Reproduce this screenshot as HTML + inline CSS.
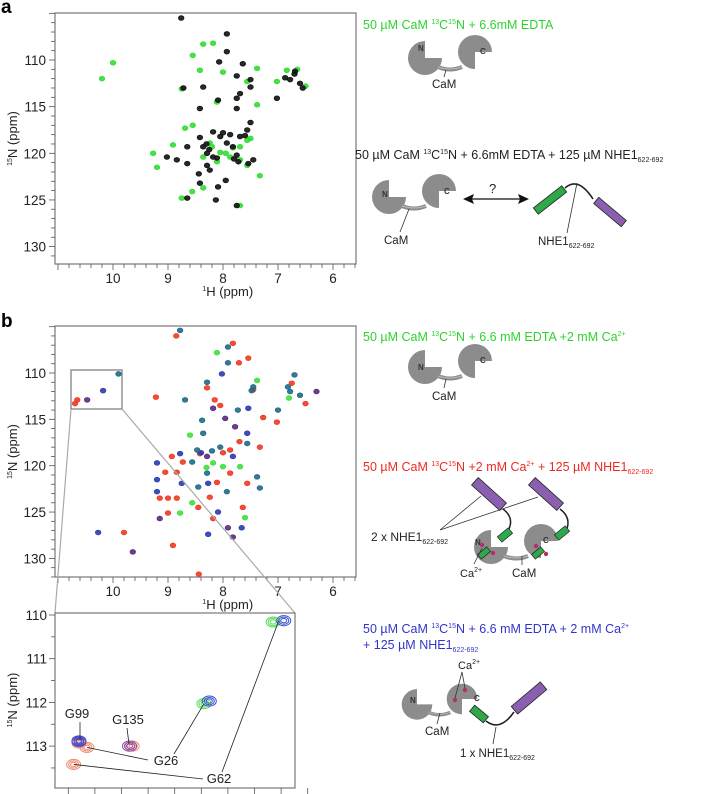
<!DOCTYPE html>
<html><head><meta charset="utf-8"><style>
html,body{margin:0;padding:0;background:#fff;}
svg{display:block;font-family:"Liberation Sans",Arial,sans-serif;}
</style></head><body>
<svg id="fig" width="701" height="794" viewBox="0 0 701 794" xmlns="http://www.w3.org/2000/svg">
<defs>
<symbol id="cam-shape" overflow="visible">
 <path d="M0,6 L0,-11 A17,17 0 1 0 17,6 Z" fill="#8c8c8c"/>
 <path d="M50,0 L67,0 A17,17 0 1 0 50,17 Z" fill="#8c8c8c"/>
 <path d="M13,15 Q25,20 37,15" stroke="#8c8c8c" stroke-width="4" fill="none"/>
 <path d="M13,15 Q25,19 37,15" stroke="#bbb" stroke-width="1" fill="none"/>
</symbol>
</defs>
<text x="1" y="13" font-size="19" font-weight="bold">a</text>
<text x="1" y="327" font-size="19" font-weight="bold">b</text>
<g id="plotA"></g>
<g id="plotB"></g>
<g id="plotC"></g>

<text x="363" y="29" font-size="12.5" fill="#2fd22f">50 µM CaM <tspan font-size="7" dy="-5">13</tspan><tspan dy="5">C</tspan><tspan font-size="7" dy="-5">15</tspan><tspan dy="5">N + 6.6mM EDTA</tspan></text>
<g>
 <use href="#cam-shape" x="425" y="52"/>
 <text x="418" y="51" font-size="8" font-weight="bold" fill="#333">N</text>
 <text x="480" y="54" font-size="8" font-weight="bold" fill="#333">C</text>
 <line x1="446" y1="70" x2="444" y2="77" stroke="#333" stroke-width="0.8"/>
 <text x="432" y="88" font-size="11.5" fill="#222">CaM</text>
</g>
<text x="355" y="159" font-size="12.5" fill="#222">50 µM CaM <tspan font-size="7" dy="-5">13</tspan><tspan dy="5">C</tspan><tspan font-size="7" dy="-5">15</tspan><tspan dy="5">N + 6.6mM EDTA + 125 µM NHE1</tspan><tspan font-size="7" dy="3">622-692</tspan></text>
<g>
 <use href="#cam-shape" x="389" y="191"/>
 <text x="382" y="197" font-size="8" font-weight="bold" fill="#333">N</text>
 <text x="444" y="194" font-size="8" font-weight="bold" fill="#333">C</text>
 <line x1="409" y1="209" x2="400" y2="232" stroke="#333" stroke-width="0.8"/>
 <text x="384" y="244" font-size="11.5" fill="#222">CaM</text>
 <line x1="470" y1="199" x2="522" y2="199" stroke="#111" stroke-width="1.2"/>
 <path d="M463,199 L474,194 L472,199 L474,204 Z" fill="#111"/>
 <path d="M529,199 L518,194 L520,199 L518,204 Z" fill="#111"/>
 <text x="489" y="193" font-size="13" fill="#222">?</text>
 <g transform="translate(550,200) rotate(-38)"><rect x="-18" y="-4" width="36" height="8" fill="#2fa84a" stroke="#222" stroke-width="0.8"/></g>
 <path d="M565,188 Q578,176 593,199" stroke="#222" stroke-width="1.6" fill="none"/>
 <g transform="translate(610,212) rotate(40)"><rect x="-18" y="-4" width="36" height="8" fill="#8b5fb0" stroke="#222" stroke-width="0.8"/></g>
 <line x1="577" y1="183" x2="567" y2="233" stroke="#333" stroke-width="0.8"/>
 <text x="538" y="245" font-size="11.5" fill="#222">NHE1<tspan font-size="7" dy="3">622-692</tspan></text>
</g>

<text x="363" y="341" font-size="12.5" fill="#2fd22f">50 µM CaM <tspan font-size="7" dy="-5">13</tspan><tspan dy="5">C</tspan><tspan font-size="7" dy="-5">15</tspan><tspan dy="5">N + 6.6 mM EDTA +2 mM Ca</tspan><tspan font-size="7" dy="-5">2+</tspan></text>
<g>
 <use href="#cam-shape" x="425" y="361"/>
 <text x="418" y="370" font-size="8" font-weight="bold" fill="#333">N</text>
 <text x="480" y="363" font-size="8" font-weight="bold" fill="#333">C</text>
 <line x1="446" y1="379" x2="444" y2="388" stroke="#333" stroke-width="0.8"/>
 <text x="432" y="400" font-size="11.5" fill="#222">CaM</text>
</g>
<text x="363" y="471" font-size="12.5" fill="#ee2a22">50 µM CaM <tspan font-size="7" dy="-5">13</tspan><tspan dy="5">C</tspan><tspan font-size="7" dy="-5">15</tspan><tspan dy="5">N +2 mM Ca</tspan><tspan font-size="7" dy="-5">2+</tspan><tspan dy="5"> + 125 µM NHE1</tspan><tspan font-size="7" dy="3">622-692</tspan></text>
<g>
 <use href="#cam-shape" x="491" y="541"/>
 <text x="475" y="545" font-size="8" font-weight="bold" fill="#333">N</text>
 <text x="543" y="543" font-size="8" font-weight="bold" fill="#333">C</text>
 <g transform="translate(489,494) rotate(42)"><rect x="-19" y="-5" width="38" height="10" fill="#8b5fb0" stroke="#222" stroke-width="0.8"/></g>
 <g transform="translate(546,494) rotate(42)"><rect x="-19" y="-5" width="38" height="10" fill="#8b5fb0" stroke="#222" stroke-width="0.8"/></g>
 <path d="M503,509 Q515,518 508,531" stroke="#222" stroke-width="1.5" fill="none"/>
 <path d="M560,509 Q572,518 566,531" stroke="#222" stroke-width="1.5" fill="none"/>
 <g transform="translate(505,535) rotate(-40)"><rect x="-7" y="-3.5" width="14" height="7" fill="#2fa84a" stroke="#222" stroke-width="0.7"/></g>
 <g transform="translate(562,533) rotate(-40)"><rect x="-7" y="-3.5" width="14" height="7" fill="#2fa84a" stroke="#222" stroke-width="0.7"/></g>
 <g transform="translate(484,553) rotate(-40)"><rect x="-6" y="-3" width="12" height="6" fill="#2fa84a" stroke="#222" stroke-width="0.7"/></g>
 <g transform="translate(538,553) rotate(-40)"><rect x="-6" y="-3" width="12" height="6" fill="#2fa84a" stroke="#222" stroke-width="0.7"/></g>
 <circle cx="482" cy="545" r="2.2" fill="#b0306a"/><circle cx="493" cy="553" r="2.2" fill="#b0306a"/>
 <circle cx="536" cy="546" r="2.2" fill="#b0306a"/><circle cx="546" cy="554" r="2.2" fill="#b0306a"/>
 <line x1="440" y1="530" x2="481" y2="496" stroke="#333" stroke-width="0.8"/>
 <line x1="440" y1="530" x2="538" y2="497" stroke="#333" stroke-width="0.8"/>
 <text x="371" y="541" font-size="12" fill="#222">2 x NHE1<tspan font-size="7" dy="3">622-692</tspan></text>
 <line x1="474" y1="564" x2="482" y2="548" stroke="#333" stroke-width="0.8"/>
 <line x1="522" y1="565" x2="522" y2="556" stroke="#333" stroke-width="0.8"/>
 <text x="460" y="577" font-size="11" fill="#222">Ca<tspan font-size="7" dy="-5">2+</tspan></text>
 <text x="512" y="577" font-size="11.5" fill="#222">CaM</text>
</g>
<text x="363" y="633" font-size="12.5" fill="#3236c8">50 µM CaM <tspan font-size="7" dy="-5">13</tspan><tspan dy="5">C</tspan><tspan font-size="7" dy="-5">15</tspan><tspan dy="5">N + 6.6 mM EDTA + 2 mM Ca</tspan><tspan font-size="7" dy="-5">2+</tspan></text>
<text x="363" y="649" font-size="12.5" fill="#3236c8">+ 125 µM NHE1<tspan font-size="7" dy="3">622-692</tspan></text>
<g>
 <use href="#cam-shape" x="417" y="699" transform="translate(41.7,69.9) scale(0.9)"/>
 <text x="410" y="703" font-size="8" font-weight="bold" fill="#333">N</text>
 <text x="474" y="701" font-size="8" font-weight="bold" fill="#333">C</text>
 <g transform="translate(479,714) rotate(40)"><rect x="-9" y="-4" width="18" height="8" fill="#2fa84a" stroke="#222" stroke-width="0.8"/></g>
 <path d="M486,721 Q500,732 514,712" stroke="#222" stroke-width="1.6" fill="none"/>
 <g transform="translate(529,698) rotate(-40)"><rect x="-19" y="-5" width="38" height="10" fill="#8b5fb0" stroke="#222" stroke-width="0.8"/></g>
 <circle cx="455" cy="700" r="2.2" fill="#b0306a"/><circle cx="465" cy="690" r="2.2" fill="#b0306a"/>
 <line x1="462" y1="672" x2="455" y2="698" stroke="#333" stroke-width="0.8"/>
 <line x1="462" y1="672" x2="465" y2="688" stroke="#333" stroke-width="0.8"/>
 <text x="458" y="669" font-size="11" fill="#222">Ca<tspan font-size="7" dy="-5">2+</tspan></text>
 <line x1="440" y1="713" x2="437" y2="724" stroke="#333" stroke-width="0.8"/>
 <text x="425" y="735" font-size="11.5" fill="#222">CaM</text>
 <line x1="496" y1="727" x2="493" y2="744" stroke="#333" stroke-width="0.8"/>
 <text x="460" y="757" font-size="11.5" fill="#222">1 x NHE1<tspan font-size="7" dy="3">622-692</tspan></text>
</g>
</svg>
<script>
const aBlack = [[8.76,105.5],[7.93,107.2],[7.93,109.1],[8.07,110.2],[7.64,110.4],[7.75,111.7],[7.5,112.1],[8.36,112.9],[7.5,112.9],[8.72,113.0],[7.69,113.6],[7.75,114.1],[8.09,114.3],[8.42,115.2],[7.75,115.2],[7.02,114.1],[6.87,111.9],[6.69,111.2],[6.78,112.1],[7.5,116.7],[8.65,119.3],[8.42,118.3],[8.18,117.7],[8.0,117.8],[7.87,118.0],[7.69,118.2],[8.36,119.3],[8.29,120.0],[8.18,120.4],[7.93,118.9],[7.82,119.3],[7.75,120.2],[8.11,120.5],[8.65,121.1],[8.29,121.3],[8.24,121.8],[7.54,121.1],[8.84,120.7],[9.02,120.4],[8.44,122.2],[7.95,122.9],[8.42,123.2],[8.09,123.6],[8.65,124.8],[8.13,125.0],[7.75,125.6],[7.56,117.5],[7.45,120.7],[6.7,111.5],[6.6,112.5],[6.55,113.0],[8.3,119.0],[8.25,119.6],[7.8,120.6],[7.72,120.9],[8.05,118.2],[7.6,118.1]];
const aGreen = [[10.0,110.3],[10.2,112.0],[8.55,109.5],[8.18,108.2],[8.36,108.3],[8.42,111.1],[8.0,111.3],[7.56,112.3],[7.38,110.9],[8.75,113.1],[8.11,114.5],[7.38,114.8],[7.02,112.3],[6.84,111.1],[9.27,120.0],[9.2,121.5],[8.91,119.1],[8.69,117.3],[8.55,117.0],[8.24,118.9],[8.05,119.9],[7.87,120.4],[7.69,119.3],[7.56,118.6],[7.69,120.7],[7.33,122.4],[7.5,118.4],[8.56,124.1],[8.36,123.7],[8.75,124.8],[7.69,125.6],[7.82,119.4],[8.36,120.4],[7.56,121.3],[8.11,120.9],[6.65,111.0],[6.5,112.8],[8.2,119.3],[7.95,120.0]];
const bTeal = [[8.78,105.4],[7.91,107.2],[7.91,108.9],[8.29,111.0],[8.69,112.9],[7.73,114.0],[7.45,111.5],[6.82,111.5],[7.0,114.0],[8.38,115.1],[8.36,116.5],[8.47,118.3],[8.05,118.0],[7.56,117.6],[8.29,120.8],[7.38,121.2],[8.45,122.3],[7.93,122.8],[7.33,122.4],[8.56,119.6],[9.9,110.1],[6.7,110.2],[6.6,112.4],[7.48,111.9],[6.78,112.0],[8.2,118.4]];
const bRed = [[8.85,106.0],[7.82,106.8],[7.54,108.4],[7.71,108.9],[8.29,111.6],[8.15,112.9],[9.22,112.6],[8.05,113.5],[7.45,111.8],[6.75,111.1],[7.02,115.3],[7.27,114.8],[7.33,118.0],[8.42,118.7],[7.87,118.3],[8.11,121.8],[7.87,120.8],[7.56,121.9],[9.05,120.7],[8.84,120.7],[8.93,119.0],[8.73,119.6],[9.0,123.5],[9.15,123.5],[8.84,123.5],[8.24,123.4],[8.45,124.5],[7.64,124.5],[9.0,125.1],[8.18,125.7],[9.8,127.2],[8.91,128.6],[8.44,131.7],[10.65,112.9],[10.69,113.3],[6.5,113.3],[8.0,118.6],[7.7,117.4]];
const bBlue = [[8.02,110.1],[7.54,113.8],[7.56,116.5],[7.82,119.0],[8.27,121.9],[9.2,119.7],[8.78,118.7],[9.2,121.5],[9.2,122.8],[8.75,121.9],[8.09,125.0],[7.66,126.7],[10.27,127.2],[8.27,127.4],[10.18,111.9],[8.4,118.6]];
const bGreen = [[8.11,107.8],[7.38,110.8],[6.8,112.7],[8.6,116.7],[8.18,119.7],[8.0,120.1],[7.69,120.1],[8.56,124.0],[8.78,125.1],[7.6,125.6],[8.3,120.2]];
const bPurple = [[8.18,113.8],[7.96,114.9],[7.78,115.8],[8.29,119.0],[9.15,125.7],[7.91,126.7],[7.82,127.7],[9.64,129.3],[10.47,112.9],[6.3,112.0]];
const insGreen = [[10.19,112.03],[9.93,110.16]];
const insBlue = [[10.17,111.97],[9.89,110.13],[10.66,112.88]];
const insPurple = [[10.47,113.0],[10.66,112.9]];
const insRed = [[10.66,112.93],[10.63,113.03],[10.46,113.0],[10.68,113.42]];
const insLabels = ["G99","G135","G26","G62"];
const xTicks = [10,9,8,7,6];
const yTicks = [110,115,120,125,130];
const insYTicks = [110,111,112,113];

const NS="http://www.w3.org/2000/svg";
function mk(parent,tag,attrs){const e=document.createElementNS(NS,tag);for(const k in attrs)e.setAttribute(k,attrs[k]);parent.appendChild(e);return e;}

function drawFrame(g,box,xs,ys,Nmin,Nmax){
  mk(g,'rect',{x:box.l,y:box.t,width:box.r-box.l,height:box.b-box.t,fill:'none',stroke:'#777','stroke-width':1.2});
  for(let h=11.0;h>=5.6;h-=0.2){const hv=Math.round(h*10)/10;const x=xs(hv);if(x<box.l-0.5||x>box.r+0.5)continue;
    const maj=Math.abs(hv-Math.round(hv))<0.01;mk(g,'line',{x1:x,y1:box.b,x2:x,y2:box.b+(maj?6:4),stroke:'#555','stroke-width':0.8});}
  for(let n=Nmin;n<=Nmax;n++){const y=ys(n);if(y<box.t||y>box.b)continue;mk(g,'line',{x1:box.l,y1:y,x2:box.l-(n%5==0?6:4),y2:y,stroke:'#555','stroke-width':0.8});}
  xTicks.forEach(v=>{const t=mk(g,'text',{x:xs(v),y:box.b+19,'font-size':13.5,'text-anchor':'middle',fill:'#222'});t.textContent=v;
    
    });
  yTicks.forEach(v=>{const t=mk(g,'text',{x:box.l-9,y:ys(v)+5,'font-size':13.5,'text-anchor':'end',fill:'#222'});t.textContent=v;
    
    });
  const xt=mk(g,'text',{x:(xs(8)+xs(7.9))/2+2,y:box.b+32,'font-size':13,'text-anchor':'middle',fill:'#222'});
  
  
  xt.innerHTML='<tspan font-size="7" dy="-5">1</tspan><tspan dy="5">H (ppm)</tspan>';
  const yt=mk(g,'text',{transform:`translate(${box.l-38},${(box.t+box.b)/2}) rotate(-90)`,'font-size':13,'text-anchor':'middle',fill:'#222'});
  
  
  yt.innerHTML='<tspan font-size="7" dy="-5">15</tspan><tspan dy="5">N (ppm)</tspan>';
}
function drawPeaks(g,arr,xs,ys,color,name,box){
  arr.forEach(p=>{const x=xs(p[0]),y=ys(p[1]);if(x<box.l||x>box.r||y<box.t||y>box.b)return;
    const c=mk(g,'ellipse',{cx:x,cy:y,rx:2.8,ry:2.4,fill:color,stroke:color,'stroke-width':0.7,'fill-opacity':0.9});
    
    });
}
const boxA={l:55,t:13,r:356,b:264};
const xA=h=>113+(10-h)*55, yA=n=>60+(n-110)*9.33;
const gA=document.getElementById('plotA');
drawFrame(gA,boxA,xA,yA,105,132);
drawPeaks(gA,aGreen,xA,yA,'#33dd33','peak-green',boxA);
drawPeaks(gA,aBlack,xA,yA,'#111','peak-black',boxA);
const boxB={l:55,t:326,r:356,b:577};
const xB=h=>113+(10-h)*55, yB=n=>373+(n-110)*9.27;
const gB=document.getElementById('plotB');
drawFrame(gB,boxB,xB,yB,105,132);
drawPeaks(gB,bGreen,xB,yB,'#3ee03e','peak-green',boxB);
drawPeaks(gB,bRed,xB,yB,'#ee3a22','peak-red',boxB);
drawPeaks(gB,bBlue,xB,yB,'#2a3cb0','peak-blue',boxB);
drawPeaks(gB,bTeal,xB,yB,'#1f6a86','peak-teal',boxB);
drawPeaks(gB,bPurple,xB,yB,'#5a2a80','peak-purple',boxB);
const zr=mk(gB,'rect',{x:71,y:370,width:51,height:39,fill:'none',stroke:'#777','stroke-width':1.2});


mk(gB,'line',{x1:71,y1:409,x2:55,y2:613,stroke:'#aaa','stroke-width':1.2});
mk(gB,'line',{x1:122,y1:409,x2:295,y2:613,stroke:'#aaa','stroke-width':1.2});
const boxC={l:55,t:613,r:295,b:788};
const xC=h=>55+(10.75-h)*266, yC=n=>615+(n-110)*43.7;
const gC=document.getElementById('plotC');
mk(gC,'rect',{x:boxC.l,y:boxC.t,width:boxC.r-boxC.l,height:boxC.b-boxC.t,fill:'#fff',stroke:'#777','stroke-width':1.2});
for(let h=10.7;h>9.8;h-=0.1){const x=xC(h);mk(gC,'line',{x1:x,y1:boxC.b,x2:x,y2:boxC.b+6,stroke:'#555','stroke-width':0.8});}
for(let n=110;n<=113.5;n+=0.5){const y=yC(n);mk(gC,'line',{x1:boxC.l,y1:y,x2:boxC.l-(n%1==0?6:4),y2:y,stroke:'#555','stroke-width':0.8});}
insYTicks.forEach(v=>{const t=mk(gC,'text',{x:47,y:yC(v)+5,'font-size':13.5,'text-anchor':'end',fill:'#222'});t.textContent=v;
  
  });
const iyt=mk(gC,'text',{transform:'translate(17,700) rotate(-90)','font-size':13,'text-anchor':'middle',fill:'#222'});


iyt.innerHTML='<tspan font-size="7" dy="-5">15</tspan><tspan dy="5">N (ppm)</tspan>';
function rings(arr,color,name){arr.forEach(p=>{const x=xC(p[0]),y=yC(p[1]);
  [7,5,3].forEach(r=>{const e=mk(gC,'ellipse',{cx:x,cy:y,rx:r,ry:r*0.72,fill:'none',stroke:color,'stroke-width':1});
    
    });});}
rings(insRed,'#f08a6a','inset-peak-red');
rings(insGreen,'#55dd55','inset-peak-green');
rings(insPurple,'#8a4aa8','inset-peak-purple');
rings(insBlue,'#3a50d0','inset-peak-blue');
const lab=[[77,718],[128,724],[166,765],[219,783]];
insLabels.forEach((s,i)=>{const t=mk(gC,'text',{x:lab[i][0],y:lab[i][1],'font-size':13,'text-anchor':'middle',fill:'#222'});t.textContent=s;
  
  });
[[80,722,80,740],[127,728,129,744],[xC(10.63),yC(113.03),148,760],[xC(10.19),yC(112.03),174,754],[xC(10.68),yC(113.42),203,779],[xC(9.91),yC(110.15),222,772]]
 .forEach(l=>mk(gC,'line',{x1:l[0],y1:l[1],x2:l[2],y2:l[3],stroke:'#222','stroke-width':0.8}));
</script>
</body></html>
